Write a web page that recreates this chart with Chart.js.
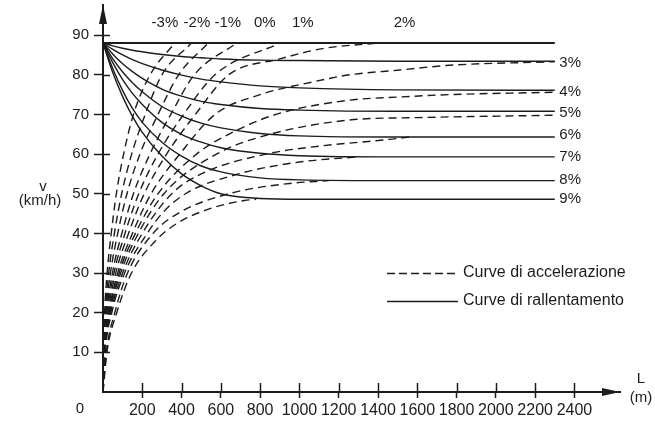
<!DOCTYPE html>
<html>
<head>
<meta charset="utf-8">
<script src="https://cdn.jsdelivr.net/npm/chart.js@4.4.0/dist/chart.umd.min.js"></script>
<style>
  html, body { margin: 0; padding: 0; background: #fff; }
</style>
</head>
<body>
<canvas id="chart" width="655" height="421"></canvas>
<script>
// ---- values ----
var yTicks = [10, 20, 30, 40, 50, 60, 70, 80, 90];
var xTicks = [200, 400, 600, 800, 1000, 1200, 1400, 1600, 1800, 2000, 2200, 2400];

// deceleration curves (solid), all leave from 88 km/h
var decelL = [0, 50, 100, 150, 200, 300, 400, 500, 600, 800, 1000, 1500, 2300];
var dec3 = [88, 87.3, 86.7, 86.2, 85.8, 85.1, 84.6, 84.3, 84.0, 83.7, 83.6, 83.4, 83.4];
var dec4 = [88, 86.4, 85, 83.8, 82.8, 81.2, 79.9, 78.9, 78.2, 77.2, 76.7, 76.2, 76.1];
var dec5 = [88, 85.2, 82.8, 80.8, 79.1, 76.4, 74.6, 73.3, 72.5, 71.5, 71.1, 70.8, 70.8];
var dec6 = [88, 84, 80.7, 78, 75.7, 72, 69.6, 67.8, 66.6, 65.2, 64.6, 64.3, 64.3];
var dec7 = [88, 83, 78.8, 75.3, 72.5, 68, 65, 63, 61.6, 60.2, 59.6, 59.3, 59.3];
var dec8 = [88, 81.5, 76, 71.5, 68, 63, 59.5, 57, 55.5, 54, 53.5, 53.3, 53.3];
var dec9 = [88, 80.5, 74.5, 69.5, 65.5, 59.5, 55, 52, 50, 48.8, 48.6, 48.6, 48.6];
var topL = [0, 2300];
var topV = [88, 88];

// acceleration curves (dashed): distance L reached at each speed
var accV = [0, 10, 20, 30, 40, 50, 60, 70, 80, 88];   // for -3% .. 1%
var accLm3 = [0, 2, 8, 21, 42, 68, 105, 155, 240, 365];
var accLm2 = [0, 3, 12, 29, 58, 95, 146, 215, 300, 450];
var accLm1 = [0, 4, 15, 38, 75, 122, 188, 280, 385, 535];
var accL0 = [0, 5, 19, 48, 96, 155, 239, 345, 465, 680];
var accL1 = [0, 6, 22, 56, 112, 182, 280, 410, 570, 900];
var accV2 = [0, 10, 20, 30, 40, 50, 60, 70, 80, 84, 86.6, 88];
var accL2 = [0, 6, 26, 65, 130, 210, 324, 470, 640, 900, 1118, 1400];
var accV3 = [0, 10, 20, 30, 40, 50, 60, 70, 75, 78.2, 80, 81.2, 82.4, 83.3];
var accL3 = [0, 7, 30, 75, 150, 245, 391, 570, 800, 1068, 1256, 1510, 1764, 2300];
var accV4 = [0, 10, 20, 30, 40, 50, 60, 65, 70, 73.6, 74.4, 75, 75.6];
var accL4 = [0, 8, 33, 82, 165, 280, 476, 640, 880, 1256, 1510, 1764, 2300];
var accV5 = [0, 10, 20, 30, 40, 50, 60, 65, 68.6, 69.2, 69.8];
var accL5 = [0, 9, 36, 90, 180, 310, 578, 850, 1256, 1600, 2300];
var accV6 = [0, 10, 20, 30, 40, 50, 55, 60, 62, 63.7, 64.3];
var accL6 = [0, 10, 40, 100, 200, 350, 500, 830, 1100, 1459, 1560];
var accV7 = [0, 10, 20, 30, 40, 45, 50, 55, 58, 59.3];
var accL7 = [0, 11, 45, 110, 225, 300, 420, 690, 1000, 1300];
var accV8 = [0, 10, 20, 30, 40, 45, 50, 52.6, 53.3];
var accL8 = [0, 17, 60, 125, 255, 380, 640, 951, 1150];
var accV9 = [0, 10, 20, 30, 38, 42, 46, 48.3, 48.6];
var accL9 = [0, 20, 70, 145, 265, 360, 530, 720, 780];

// grade labels
var topLabels = ['-3%', '-2%', '-1%', '0%', '1%', '2%'];
var topLabelL = [315, 478, 635, 824, 1017, 1535];
var topLabelV = 93;
var rightLabels = ['3%', '4%', '5%', '6%', '7%', '8%', '9%'];
var rightLabelV = [83.1, 75.6, 70.3, 64.8, 59.2, 53.4, 48.6];
var rightLabelL = 2323;

var ink = '#1c1c1c';
var txtFont = '"Liberation Sans", Arial, sans-serif';

function pts(L, V) {
  return L.map(function (l, i) { return { x: l, y: V[i] }; });
}

function solid(L, V, w) {
  return { data: pts(L, V), borderColor: ink, borderWidth: w || 1.4, pointRadius: 0,
           showLine: true, fill: false, cubicInterpolationMode: 'monotone' };
}
function dashed(L, V) {
  return { data: pts(L, V), borderColor: ink, borderWidth: 1.4, borderDash: [8, 5], pointRadius: 0,
           showLine: true, fill: false, cubicInterpolationMode: 'monotone' };
}

var datasets = [
  solid(topL, topV, 2),
  solid(decelL, dec3), solid(decelL, dec4), solid(decelL, dec5), solid(decelL, dec6),
  solid(decelL, dec7), solid(decelL, dec8), solid(decelL, dec9),
  dashed(accLm3, accV), dashed(accLm2, accV), dashed(accLm1, accV), dashed(accL0, accV),
  dashed(accL1, accV), dashed(accL2, accV2), dashed(accL3, accV3), dashed(accL4, accV4),
  dashed(accL5, accV5), dashed(accL6, accV6), dashed(accL7, accV7), dashed(accL8, accV8),
  dashed(accL9, accV9)
];

var decor = {
  id: 'decor',
  afterDraw: function (chart) {
    var ctx = chart.ctx, xs = chart.scales.x, ys = chart.scales.y;
    var ox = xs.getPixelForValue(0), oy = ys.getPixelForValue(0);
    var top = chart.chartArea.top, right = chart.chartArea.right;
    ctx.save();
    ctx.strokeStyle = ink;
    ctx.fillStyle = ink;

    // tick marks cross the axes: inner halves
    ctx.lineWidth = 1.5;
    ctx.beginPath();
    yTicks.forEach(function (v) {
      var y = Math.round(ys.getPixelForValue(v)) + 0.5;
      ctx.moveTo(ox, y); ctx.lineTo(ox + 7, y);
    });
    xTicks.forEach(function (v) {
      var x = Math.round(xs.getPixelForValue(v)) + 0.5;
      ctx.moveTo(x, oy); ctx.lineTo(x, oy - 9);
    });
    ctx.stroke();

    // arrow heads
    ctx.beginPath();
    ctx.moveTo(ox, top); ctx.lineTo(ox - 4, top + 19); ctx.lineTo(ox + 4, top + 19);
    ctx.closePath(); ctx.fill();
    ctx.beginPath();
    ctx.moveTo(right, oy); ctx.lineTo(right - 18, oy - 4); ctx.lineTo(right - 18, oy + 4);
    ctx.closePath(); ctx.fill();

    // axis names and origin
    ctx.font = '15px ' + txtFont;
    ctx.textAlign = 'center';
    ctx.textBaseline = 'middle';
    ctx.fillText('0', 80, 409);
    ctx.fillText('v', 43, 187);
    ctx.fillText('(km/h)', 40, 201);
    ctx.fillText('L', 641, 379);
    ctx.fillText('(m)', 641, 398);

    // grade labels
    topLabels.forEach(function (t, i) {
      ctx.fillText(t, xs.getPixelForValue(topLabelL[i]), ys.getPixelForValue(topLabelV));
    });
    ctx.textAlign = 'left';
    rightLabels.forEach(function (t, i) {
      ctx.fillText(t, xs.getPixelForValue(rightLabelL), ys.getPixelForValue(rightLabelV[i]));
    });

    // legend
    ctx.lineWidth = 1.4;
    ctx.setLineDash([8, 4]);
    ctx.beginPath(); ctx.moveTo(387, 273.5); ctx.lineTo(458, 273.5); ctx.stroke();
    ctx.setLineDash([]);
    ctx.beginPath(); ctx.moveTo(387, 301.5); ctx.lineTo(458, 301.5); ctx.stroke();
    ctx.font = '16px ' + txtFont;
    ctx.fillText('Curve di accelerazione', 463, 273);
    ctx.fillText('Curve di rallentamento', 463, 301);
    ctx.restore();
  }
};

new Chart(document.getElementById('chart'), {
  type: 'scatter',
  data: { datasets: datasets },
  options: {
    responsive: false,
    animation: false,
    devicePixelRatio: 1,
    layout: { padding: { top: 5, right: 35, left: 0, bottom: 0 } },
    plugins: { legend: { display: false }, tooltip: { enabled: false } },
    scales: {
      x: {
        type: 'linear', min: 0, max: 2632,
        afterFit: function (s) { s.height = 29; s.paddingLeft = 0; s.paddingRight = 0; },
        afterBuildTicks: function (s) { s.ticks = xTicks.map(function (v) { return { value: v }; }); },
        grid: { drawOnChartArea: false, drawTicks: true, tickLength: 6, tickWidth: 1.5, tickColor: ink },
        border: { display: true, color: ink, width: 2 },
        ticks: { color: ink, padding: 3, maxRotation: 0, autoSkip: false,
                 font: { family: txtFont, size: 16 },
                 callback: function (v) { return String(v); } }
      },
      y: {
        type: 'linear', min: 0, max: 97.6,
        afterFit: function (s) { s.width = 103; s.paddingTop = 0; s.paddingBottom = 0; },
        afterBuildTicks: function (s) { s.ticks = yTicks.map(function (v) { return { value: v }; }); },
        grid: { drawOnChartArea: false, drawTicks: true, tickLength: 9, tickWidth: 1.5, tickColor: ink },
        border: { display: true, color: ink, width: 2 },
        ticks: { color: ink, padding: 5, autoSkip: false,
                 font: { family: txtFont, size: 15 },
                 callback: function (v) { return String(v); } }
      }
    }
  },
  plugins: [decor]
});
</script>
</body>
</html>
